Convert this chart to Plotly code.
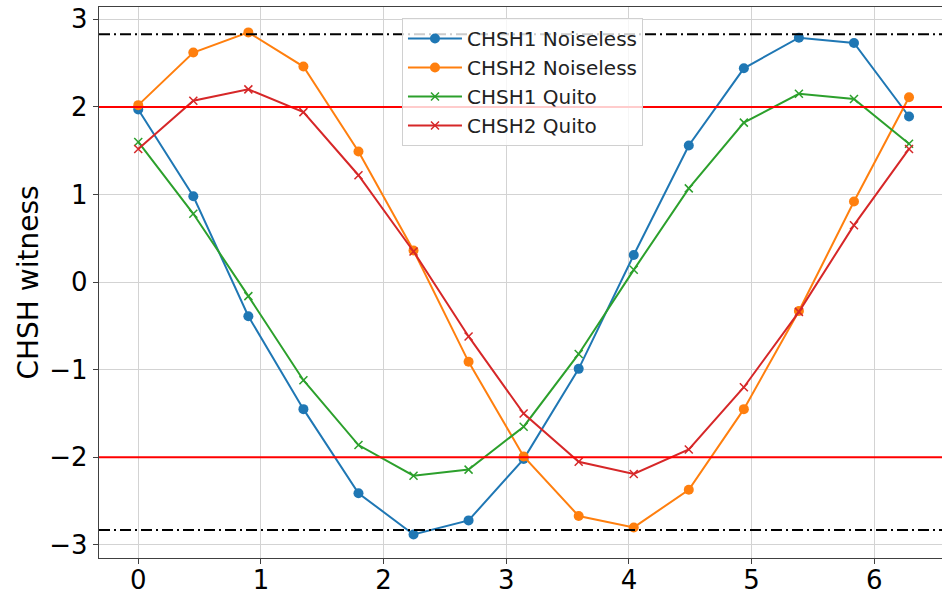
import numpy as np
import plotly.graph_objects as go

n_points = 15
theta = np.linspace(0, 2 * np.pi, n_points)

chsh1_noiseless = [1.97, 0.98, -0.39, -1.45, -2.41, -2.88, -2.72, -2.02,
                   -0.99, 0.31, 1.56, 2.44, 2.79, 2.73, 1.89]
chsh2_noiseless = [2.02, 2.62, 2.85, 2.46, 1.49, 0.36, -0.91, -1.99,
                   -2.67, -2.80, -2.37, -1.45, -0.33, 0.92, 2.11]
chsh1_quito = [1.60, 0.78, -0.16, -1.12, -1.86, -2.21, -2.14, -1.65,
               -0.82, 0.14, 1.07, 1.82, 2.15, 2.09, 1.58]
chsh2_quito = [1.52, 2.07, 2.20, 1.94, 1.22, 0.35, -0.62, -1.50,
               -2.05, -2.19, -1.91, -1.20, -0.34, 0.65, 1.52]

series_names = ["CHSH1 Noiseless", "CHSH2 Noiseless", "CHSH1 Quito", "CHSH2 Quito"]
classical_bound = 2.0
quantum_bound = 2 * np.sqrt(2)

x_ticks = [0, 1, 2, 3, 4, 5, 6]
y_ticks = [-3, -2, -1, 0, 1, 2, 3]

colors = ["#1f77b4", "#ff7f0e", "#2ca02c", "#d62728"]
symbols = ["circle", "circle", "x-thin", "x-thin"]

fig = go.Figure()
for name, vals, col, sym in zip(series_names,
                                [chsh1_noiseless, chsh2_noiseless, chsh1_quito, chsh2_quito],
                                colors, symbols):
    if sym == "circle":
        marker = dict(symbol="circle", size=10, color=col, line=dict(width=0))
    else:
        marker = dict(symbol="x-thin", size=8, color=col, line=dict(width=1.5, color=col))
    fig.add_trace(go.Scatter(x=theta, y=vals, mode="lines+markers", name=name,
                             line=dict(color=col, width=2), marker=marker))

for v in (classical_bound, -classical_bound):
    fig.add_hline(y=v, line=dict(color="#ff0000", width=2), layer="above")
for v in (quantum_bound, -quantum_bound):
    fig.add_hline(y=v, line=dict(color="black", width=2, dash="11px,4px,2px,4px"), layer="above")

fig.update_layout(
    width=942, height=593,
    margin=dict(l=99, r=0, t=7, b=35),
    plot_bgcolor="white", paper_bgcolor="white",
    font=dict(family="DejaVu Sans", color="black"),
    showlegend=True,
    legend=dict(x=0.3594, y=0.98, xanchor="left", yanchor="top",
                bgcolor="rgba(255,255,255,0.8)", bordercolor="#d0d0d0", borderwidth=1,
                font=dict(size=20, family="DejaVu Sans", color="#222"),
                tracegroupgap=0, itemwidth=54),
)
fig.update_xaxes(range=[-0.32, 6.552], tickvals=x_ticks, showgrid=True,
                 gridcolor="#d3d3d3", gridwidth=1, zeroline=False, automargin=False,
                 showline=True, linecolor="#404040", linewidth=1.3, mirror=True,
                 ticks="outside", ticklen=5, tickcolor="#404040",
                 ticklabelstandoff=-6,
                 tickfont=dict(size=26, family="DejaVu Sans"))
fig.update_yaxes(range=[-3.149, 3.14], tickvals=y_ticks, showgrid=True,
                 gridcolor="#d3d3d3", gridwidth=1, zeroline=False, automargin=False,
                 showline=True, linecolor="#404040", linewidth=1.3,
                 ticks="outside", ticklen=5, tickcolor="#404040",
                 tickfont=dict(size=26, family="DejaVu Sans"),
                 title=dict(text="CHSH witness", font=dict(size=28, family="DejaVu Sans"),
                            standoff=2))

fig.write_html("out.html", config={"displayModeBar": False},
               post_script="document.body.style.margin='0px';")
